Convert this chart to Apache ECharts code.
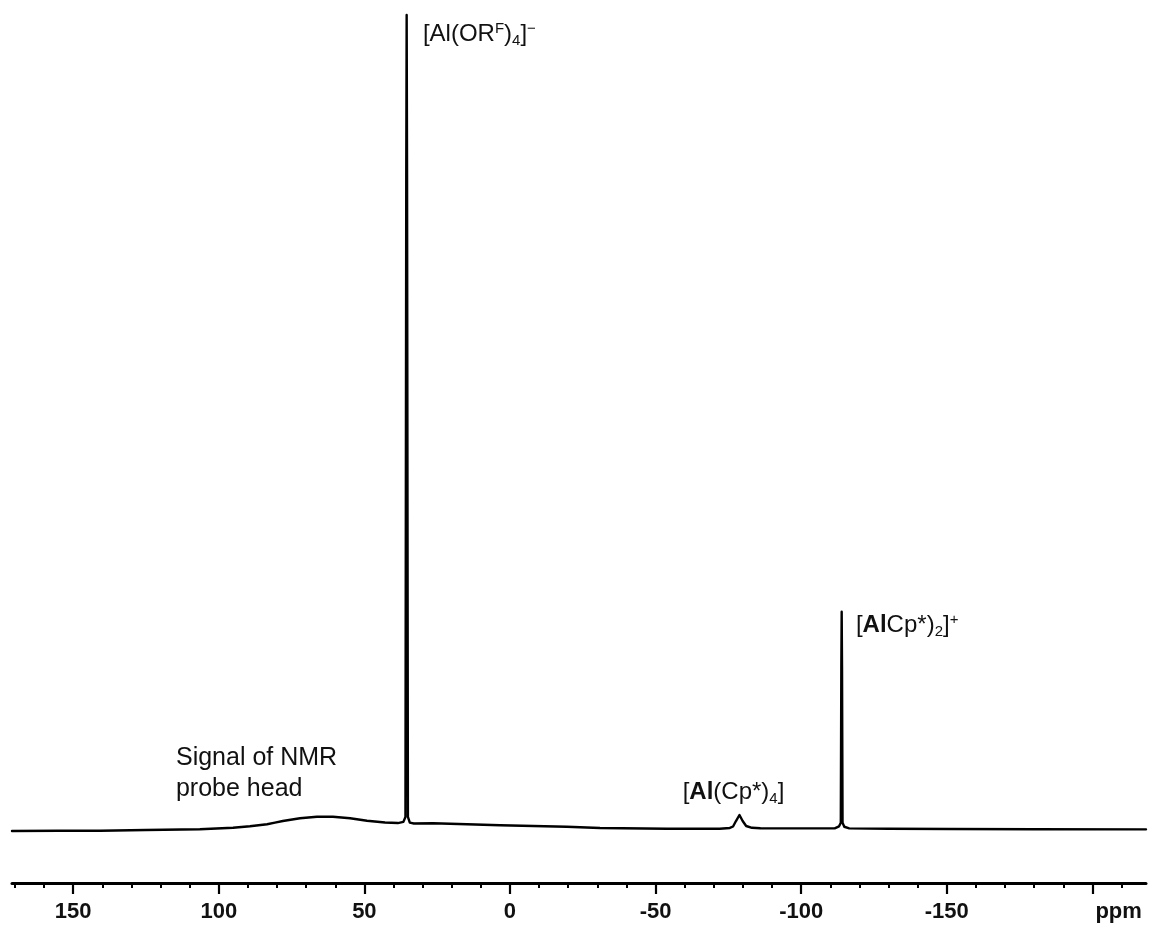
<!DOCTYPE html>
<html><head><meta charset="utf-8">
<script src="https://cdn.jsdelivr.net/npm/echarts@6/dist/echarts.min.js"></script>
<style>html,body{margin:0;padding:0;background:#fff}#c{width:1150px;height:931px}</style>
</head><body><div id="c"></div>
<script>
// 27Al NMR spectrum, chemical shift (ppm) vs intensity (arbitrary units)
const ppm = [171.0, 155, 140.8, 125, 106.5, 95.1, 89.3, 83.4, 80.7, 78.0, 72.1, 66.3, 60.8, 54.9, 49.1, 42.9, 38.5, 36.6, 35.9, 35.62, 35.48, 35.34, 35.05, 34.4, 33.0, 26.4, 14.8, 3.4, -19.5, -30.9, -53.9, -72.0, -75.5, -76.6, -77.6, -78.8, -79.9, -81.1, -83.1, -86, -100, -111.5, -113.0, -113.6, -113.78, -113.9, -114.02, -114.2, -114.8, -116.5, -130, -151, -180, -218.4];
const intensity = [-0.12, -0.1, -0.09, 0.0, 0.09, 0.28, 0.46, 0.70, 0.9, 1.10, 1.44, 1.63, 1.63, 1.44, 1.14, 0.92, 0.85, 1.0, 1.6, 80, 100, 80, 1.6, 0.9, 0.8, 0.82, 0.70, 0.58, 0.40, 0.25, 0.16, 0.15, 0.25, 0.43, 1.10, 1.84, 1.10, 0.49, 0.27, 0.21, 0.2, 0.2, 0.45, 0.9, 20, 26.79, 20, 0.9, 0.4, 0.2, 0.15, 0.12, 0.1, 0.08];
const majorTicks = [150, 100, 50, 0, -50, -100, -150, -200];
const tickLabels = [150, 100, 50, 0, -50, -100, -150];
const minorTicks = [170, 160, 140, 130, 120, 110, 90, 80, 70, 60, 40, 30, 20, 10, -10, -20, -30, -40, -60, -70, -80, -90, -110, -120, -130, -140, -160, -170, -180, -190, -210];
const unitTick = [-200];
const unitLabel = 'ppm';
const annotationTexts = [
  '{n|[Al(OR}{sup|F}{n|)}{sub|4}{n|]}{sup|\u2212}',
  '{n|[}{b|Al}{n|Cp*)}{sub|2}{n|]}{sup|+}',
  '{n|[}{b|Al}{n|(Cp*)}{sub|4}{n|]}',
  '{m|Signal of NMR}\n{m|probe head}'
];
const annotationPpm = [29.9, -118.8, -59.3, 114.7];
const annotationVal = [99.45, 26.9, 6.45, 10.7];

const FONT = "'Liberation Sans', Arial, Helvetica, sans-serif";
const INK = '#111';
const chart = echarts.init(document.getElementById('c'), null, {renderer: 'canvas'});
const data = ppm.map((p, i) => [p, intensity[i]]);
const xMin = -218.4, xMax = 171.0;

const option = {
  backgroundColor: '#fff',
  animation: false,
  grid: {left: 12, right: 4, top: 15, bottom: 48, containLabel: false},
  xAxis: [
    {
      type: 'value', inverse: true, min: xMin, max: xMax, position: 'bottom',
      axisLine: {show: true, onZero: false, lineStyle: {color: '#000', width: 3}},
      axisTick: {show: true, customValues: majorTicks, length: 11, inside: false, lineStyle: {color: '#000', width: 2.2}},
      axisLabel: {show: true, customValues: tickLabels, fontFamily: FONT, fontWeight: 'bold', fontSize: 22, color: INK, margin: 18},
      splitLine: {show: false}
    },
    {
      type: 'value', inverse: true, min: xMin, max: xMax, position: 'bottom',
      axisLine: {show: false, onZero: false},
      axisTick: {show: true, customValues: minorTicks, length: 5, lineStyle: {color: '#000', width: 2}},
      axisLabel: {show: true, customValues: unitTick, formatter: () => '{p|' + unitLabel + '}', align: 'left', margin: 18,
        rich: {p: {fontFamily: FONT, fontWeight: 'bold', fontSize: 22, color: INK, padding: [0, 0, 0, 3]}}},
      splitLine: {show: false}
    }
  ],
  yAxis: {type: 'value', min: -6.503, max: 100, show: false, splitLine: {show: false}},
  series: [{
    type: 'line', xAxisIndex: 0, yAxisIndex: 0, data: data,
    showSymbol: false, symbol: 'none', clip: false,
    lineStyle: {color: '#000', width: 2.4, join: 'round', cap: 'round'}
  }]
};
chart.setOption(option);

const rich = {
  n: {fontFamily: FONT, fontSize: 24, color: INK, lineHeight: 30},
  b: {fontFamily: FONT, fontSize: 24, fontWeight: 'bold', color: INK, lineHeight: 30},
  m: {fontFamily: FONT, fontSize: 25, color: INK, lineHeight: 31},
  sup: {fontFamily: FONT, fontSize: 15, color: INK, verticalAlign: 'top', padding: [2, 0, 0, 0]},
  sub: {fontFamily: FONT, fontSize: 15, color: INK, verticalAlign: 'bottom', padding: [0, 0, 1, 0]}
};
const graphics = annotationTexts.map((t, i) => {
  const pt = chart.convertToPixel({seriesIndex: 0}, [annotationPpm[i], annotationVal[i]]);
  return {type: 'text', x: pt[0], y: pt[1], silent: true,
    style: {text: t, rich: rich, align: 'left', verticalAlign: 'top', fill: INK}};
});
chart.setOption({graphic: graphics});
</script>
</body></html>
